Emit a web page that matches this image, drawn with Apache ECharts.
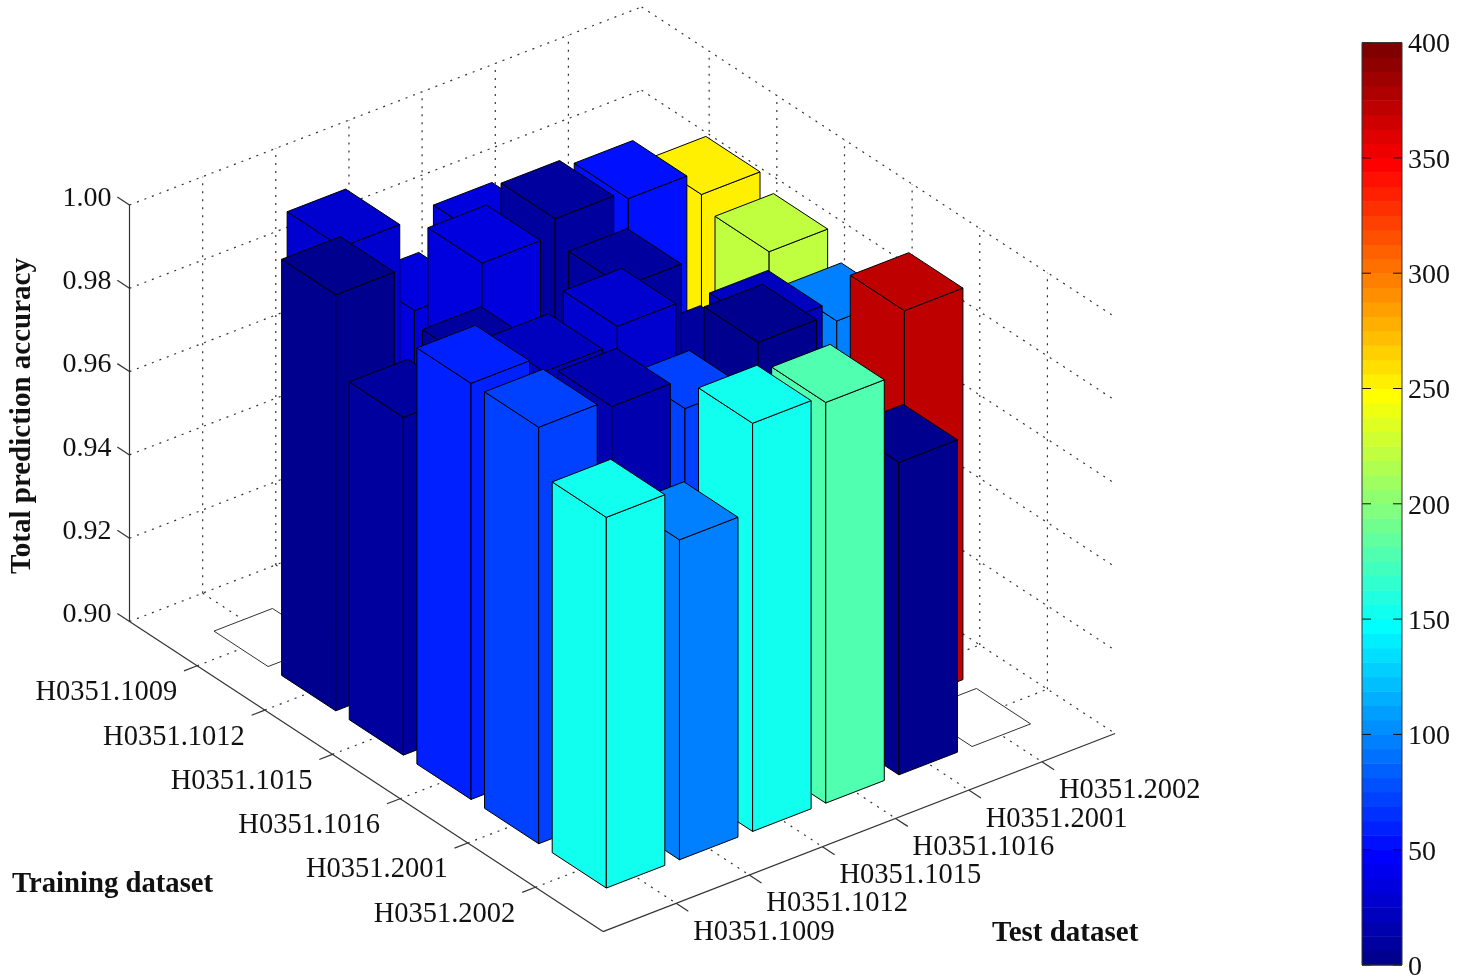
<!DOCTYPE html>
<html>
<head>
<meta charset="utf-8">
<title>Total prediction accuracy</title>
<style>
  html, body { margin: 0; padding: 0; background: #fff; }
  #main { width: 1469px; height: 976px; }
</style>
<script src="https://cdn.jsdelivr.net/npm/echarts@6/dist/echarts.min.js"></script>
</head>
<body>
<div id="main"></div>
<script>
var trainingLabels = ['H0351.1009', 'H0351.1012', 'H0351.1015', 'H0351.1016', 'H0351.2001', 'H0351.2002'];
var testLabels = ['H0351.1009', 'H0351.1012', 'H0351.1015', 'H0351.1016', 'H0351.2001', 'H0351.2002'];
var accuracyTicks = [0.90, 0.92, 0.94, 0.96, 0.98, 1.00];

// 每行一个训练集，每列一个测试集
var accuracy1009 = [0.9000, 0.9939, 0.9719, 0.9819, 0.9700, 0.9700];
var accuracy1012 = [0.9999, 0.9000, 0.9939, 0.9978, 0.9958, 0.9900];
var accuracy1015 = [0.9811, 0.9869, 0.9000, 0.9921, 0.9668, 0.9869];
var accuracy1016 = [0.9999, 0.9959, 1.0000, 0.9000, 0.9859, 0.9809];
var accuracy2001 = [1.0000, 0.9982, 0.9909, 1.0000, 0.9000, 0.9940];
var accuracy2002 = [0.9890, 0.9768, 0.9980, 0.9962, 0.9750, 0.9000];
var accuracy = [accuracy1009, accuracy1012, accuracy1015, accuracy1016, accuracy2001, accuracy2002];

// 颜色条对应的数值
var count1009 = [0, 28, 34, 34, 34, 34];
var count1012 = [3, 0, 34, 9, 53, 253];
var count1015 = [9, 9, 0, 9, 9, 222];
var count1016 = [59, 22, 28, 0, 22, 97];
var count2001 = [72, 16, 72, 3, 0, 372];
var count2002 = [153, 97, 153, 178, 3, 0];
var counts = [count1009, count1012, count1015, count1016, count2001, count2002];

var colorTicks = [0, 50, 100, 150, 200, 250, 300, 350, 400];
var colorMax = 400;
var colorLevels = 64;

var fontName = '"Liberation Serif", "Times New Roman", serif';
var labelSize = 28.5;
var numberSize = 28;
var titleSize = 29;

// 斜投影的步长
var testStepX = 73.15;
var testStepY = -28.3;
var trainStepY = 44.3;
var barHalf = 0.4;
var tickLen = 0.18;
var axisEnd = 7;
var zMin = accuracyTicks[0];
var zMax = accuracyTicks[accuracyTicks.length - 1];

// MATLAB jet(64)
function jetPart(j) {
  if (j < 1 || j > 47) return 0;
  if (j <= 16) return j / 16;
  if (j <= 31) return 1;
  return (48 - j) / 16;
}
function jetColor(level) {
  var i = level + 1;
  return 'rgb(' + Math.round(jetPart(i - 24) * 255) + ',' +
    Math.round(jetPart(i - 8) * 255) + ',' +
    Math.round(jetPart(i + 8) * 255) + ')';
}
function countColor(v) {
  return jetColor(Math.min(colorLevels - 1, Math.floor(v / colorMax * colorLevels)));
}

function project(api, t, s, z) {
  var p = api.coord([t, z]);
  return [p[0] + s * testStepX, p[1] + t * trainStepY + s * testStepY];
}

// 柱子按从后往前的顺序排
var barData = [];
for (var s = testLabels.length; s >= 1; s--) {
  for (var t = 1; t <= trainingLabels.length; t++) {
    barData.push([t, s, accuracy[t - 1][s - 1], counts[t - 1][s - 1]]);
  }
}

// 背景虚线
var gridData = [];
for (var i = 1; i <= axisEnd - 1; i++) {
  gridData.push([i, 0, zMin, i, axisEnd, zMin]);
  gridData.push([0, i, zMin, axisEnd, i, zMin]);
  gridData.push([0, i, zMin, 0, i, zMax]);
  gridData.push([i, axisEnd, zMin, i, axisEnd, zMax]);
}
accuracyTicks.forEach(function (z) {
  gridData.push([0, 0, z, 0, axisEnd, z]);
  gridData.push([0, axisEnd, z, axisEnd, axisEnd, z]);
});

// 实线坐标轴和刻度
var axisData = [
  [0, 0, zMin, axisEnd, 0, zMin],
  [axisEnd, 0, zMin, axisEnd, axisEnd, zMin]
];
for (var k = 1; k <= trainingLabels.length; k++) {
  axisData.push([k, 0, zMin, k, -tickLen, zMin]);
  axisData.push([axisEnd, k, zMin, axisEnd + tickLen, k, zMin]);
}
accuracyTicks.forEach(function (z) {
  axisData.push([0, 0, z, -tickLen, 0, z]);
});

var labelData = [];
trainingLabels.forEach(function (name, idx) {
  labelData.push([idx + 1, 0, name, 'train']);
});
testLabels.forEach(function (name, idx) {
  labelData.push([axisEnd, idx + 1, name, 'test']);
});

var colorData = [];
for (var lv = 0; lv < colorLevels; lv++) {
  colorData.push([lv * colorMax / colorLevels, (lv + 1) * colorMax / colorLevels, lv]);
}

function renderLine(stroke, dash) {
  return function (params, api) {
    var a = project(api, api.value(0), api.value(1), api.value(2));
    var b = project(api, api.value(3), api.value(4), api.value(5));
    return {
      type: 'line',
      silent: true,
      shape: { x1: a[0], y1: a[1], x2: b[0], y2: b[1] },
      style: { stroke: stroke, lineWidth: 1.2, lineDash: dash, fill: null }
    };
  };
}

function renderBar(params, api) {
  var t = api.value(0), s = api.value(1), z = api.value(2);
  var fill = z <= zMin ? '#fff' : countColor(api.value(3));
  var edge = z <= zMin ? '#333' : '#000';
  function top(a, b) { return project(api, t + a * barHalf, s + b * barHalf, z); }
  function low(a, b) { return project(api, t + a * barHalf, s + b * barHalf, zMin); }
  function face(points) {
    return {
      type: 'polygon',
      shape: { points: points },
      style: { fill: fill, stroke: edge, lineWidth: 1 }
    };
  }
  var children = [];
  if (z > zMin) {
    children.push(face([low(-1, -1), low(1, -1), top(1, -1), top(-1, -1)]));
    children.push(face([low(1, -1), low(1, 1), top(1, 1), top(1, -1)]));
  }
  children.push(face([top(-1, -1), top(1, -1), top(1, 1), top(-1, 1)]));
  return { type: 'group', silent: true, children: children };
}

function renderAxisLabel(params, api) {
  var isTrain = api.value(3) === 'train';
  var p = project(api, api.value(0), api.value(1), zMin);
  return {
    type: 'text',
    silent: true,
    style: {
      x: p[0] + (isTrain ? -20 : 17),
      y: p[1] + (isTrain ? 27 : 29),
      text: api.value(2),
      fill: '#111',
      font: labelSize + 'px ' + fontName,
      textAlign: isTrain ? 'right' : 'left',
      textVerticalAlign: 'middle'
    }
  };
}

function renderColorCell(params, api) {
  var a = api.coord([0, api.value(0)]);
  var b = api.coord([1, api.value(1)]);
  return {
    type: 'rect',
    silent: true,
    shape: { x: a[0], y: b[1], width: b[0] - a[0], height: a[1] - b[1] + 0.5 },
    style: { fill: jetColor(api.value(2)) }
  };
}

// 颜色条两侧向内的短刻度
function renderColorTick(params, api) {
  var a = api.coord([0, api.value(0)]);
  var b = api.coord([1, api.value(0)]);
  var tick = 9;
  return {
    type: 'group',
    silent: true,
    children: [
      { type: 'line', shape: { x1: a[0], y1: a[1], x2: a[0] + tick, y2: a[1] }, style: { stroke: '#111', lineWidth: 1 } },
      { type: 'line', shape: { x1: b[0] - tick, y1: b[1], x2: b[0], y2: b[1] }, style: { stroke: '#111', lineWidth: 1 } }
    ]
  };
}

var myChart = echarts.init(document.getElementById('main'));
var option = {
  animation: false,
  backgroundColor: '#fff',
  textStyle: { fontFamily: fontName },
  grid: [
    { left: 129.5, top: 205, width: 473.5, height: 416.5, outerBoundsMode: 'none' },
    { left: 1362, top: 42.6, width: 40, height: 922.4, show: true, borderColor: '#333', borderWidth: 1, z: 5, outerBoundsMode: 'none' }
  ],
  xAxis: [
    { gridIndex: 0, type: 'value', min: 0, max: axisEnd, show: false },
    { gridIndex: 1, type: 'value', min: 0, max: 1, show: false }
  ],
  yAxis: [
    {
      gridIndex: 0,
      type: 'value',
      min: zMin,
      max: zMax,
      interval: 0.02,
      axisLine: { show: true, onZero: false, lineStyle: { color: '#333', width: 1.2 } },
      axisTick: { show: false },
      splitLine: { show: false },
      axisLabel: {
        fontFamily: fontName,
        fontSize: numberSize,
        color: '#111',
        margin: 18,
        verticalAlign: 'bottom',
        lineHeight: 13,
        formatter: function (v) { return v.toFixed(2); }
      }
    },
    {
      gridIndex: 1,
      type: 'value',
      position: 'right',
      min: 0,
      max: colorMax,
      interval: colorTicks[1] - colorTicks[0],
      axisLine: { show: false },
      axisTick: { show: false },
      splitLine: { show: false },
      axisLabel: {
        fontFamily: fontName,
        fontSize: numberSize,
        color: '#111',
        margin: 6,
        verticalAlign: 'top',
        lineHeight: 5
      }
    }
  ],
  graphic: [
    {
      type: 'text', x: 23, y: 416, rotation: Math.PI / 2,
      style: {
        text: 'Total prediction accuracy',
        font: 'bold ' + titleSize + 'px ' + fontName,
        fill: '#111',
        textAlign: 'center',
        textVerticalAlign: 'middle'
      }
    },
    {
      type: 'text', left: 12, top: 870,
      style: { text: 'Training dataset', font: 'bold 28.7px ' + fontName, fill: '#111' }
    },
    {
      type: 'text', left: 992, top: 919,
      style: { text: 'Test dataset', font: 'bold ' + titleSize + 'px ' + fontName, fill: '#111' }
    }
  ],
  series: [
    {
      name: 'grid lines', type: 'custom', xAxisIndex: 0, yAxisIndex: 0, z: 1,
      renderItem: renderLine('#333', [2, 6]), data: gridData
    },
    {
      name: 'axes', type: 'custom', xAxisIndex: 0, yAxisIndex: 0, z: 2,
      renderItem: renderLine('#333', null), data: axisData
    },
    {
      name: 'accuracy', type: 'custom', xAxisIndex: 0, yAxisIndex: 0, z: 3,
      renderItem: renderBar, data: barData
    },
    {
      name: 'axis labels', type: 'custom', xAxisIndex: 0, yAxisIndex: 0, z: 4,
      renderItem: renderAxisLabel, data: labelData
    },
    {
      name: 'colorbar', type: 'custom', xAxisIndex: 1, yAxisIndex: 1, z: 1,
      renderItem: renderColorCell, data: colorData
    },
    {
      name: 'colorbar ticks', type: 'custom', xAxisIndex: 1, yAxisIndex: 1, z: 2,
      renderItem: renderColorTick, data: colorTicks.map(function (v) { return [v]; })
    }
  ]
};
myChart.setOption(option);
</script>
</body>
</html>
